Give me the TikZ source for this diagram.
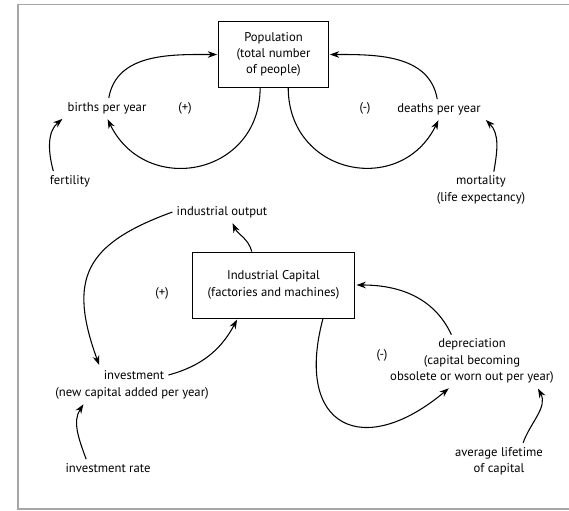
\documentclass[tikz,border=0pt]{standalone}
\usepackage{fontspec}
\setmainfont{PT Sans}
\usetikzlibrary{arrows.meta,positioning}
\tikzset{
    stock/.style={rectangle, draw, semithick, align=center, inner sep=2pt},
    var/.style={align=center, inner sep=3pt},
    sign/.style={inner sep=1pt},
    flow/.style={->, thick, >={Stealth[length=7pt,width=5pt]}, shorten >=1pt},
  }

\begin{document}
\begin{tikzpicture}[x=0.75pt, y=0.75pt, font=\fontsize{9.5}{12.2}\selectfont]
      \useasboundingbox (0,0) rectangle (569,-511);
      \draw [gray!70, line width=1pt] (569,-4.5) -- (18,-4.5) -- (18,-509) -- (569,-509);

      % population loops
      \node (pop) [stock, minimum width=82pt, minimum height=49pt] at (273.5,-54.5)
        {Population\\(total number\\of people)};
      \node (births) [var] at (107,-108) {births per year};
      \node (deaths) [var] at (439,-109) {deaths per year};
      \node (pos-pop) [sign] at (185,-108) {(+)};
      \node (neg-pop) [sign] at (365,-108) {(-)};
      \node (fert) [var] at (70,-181) {fertility};
      \node (mort) [var] at (481,-190) {mortality\\(life expectancy)};

      \draw [flow] (births.80) to [out=80, in=180] (pop.west);
      \draw [flow] (deaths.100) to [out=100, in=0] (pop.east);
      \draw [flow] (pop.-112) to [out=-90, in=-64, looseness=1.45] (births.south);
      \draw [flow] (pop.-66) to [out=-90, in=-116, looseness=1.45] (deaths.south);
      \draw [flow] (fert.149) to [out=105, in=-140] (births.south west);
      \draw [flow] (mort.55) to [out=80, in=-45] (deaths.south east);

      % capital loops
      \node (cap) [stock, minimum width=122pt, minimum height=49.5pt] at (273.5,-285)
        {Industrial Capital\\(factories and machines)};
      \node (output) [var] at (222,-212) {industrial output};
      \node (invest) [var] at (134,-375) {investment};
      \node (invest-note) [var] at (132,-393) {(new capital added per year)};
      \node (rate) [var] at (108,-468) {investment rate};
      \node (deprec) [var] at (472,-361)
        {depreciation\\(capital becoming\\obsolete or worn out per year)};
      \node (life) [var] at (499,-461) {average lifetime\\of capital};
      \node (pos-cap) [sign] at (162,-293) {(+)};
      \node (neg-cap) [sign] at (382,-355) {(-)};

      \draw [flow] (cap.123) to [out=105, in=-65] (output.-45);
      \draw [flow] (output.west) to [out=200, in=110, looseness=1.4] (invest.north west);
      \draw [flow] (invest.east) to [out=15, in=-118] (cap.-137);
      \draw [flow] (rate.158) to [out=110, in=-123] (invest-note.192);
      \draw [flow] (cap.-34) to [out=-105, in=-140, looseness=2] (deprec.-130);
      \draw [flow] (deprec.128) to [out=115, in=0] (cap.east);
      \draw [flow] (life.37) to [out=70, in=-62] (deprec.-22);
  \end{tikzpicture}
\end{document}
